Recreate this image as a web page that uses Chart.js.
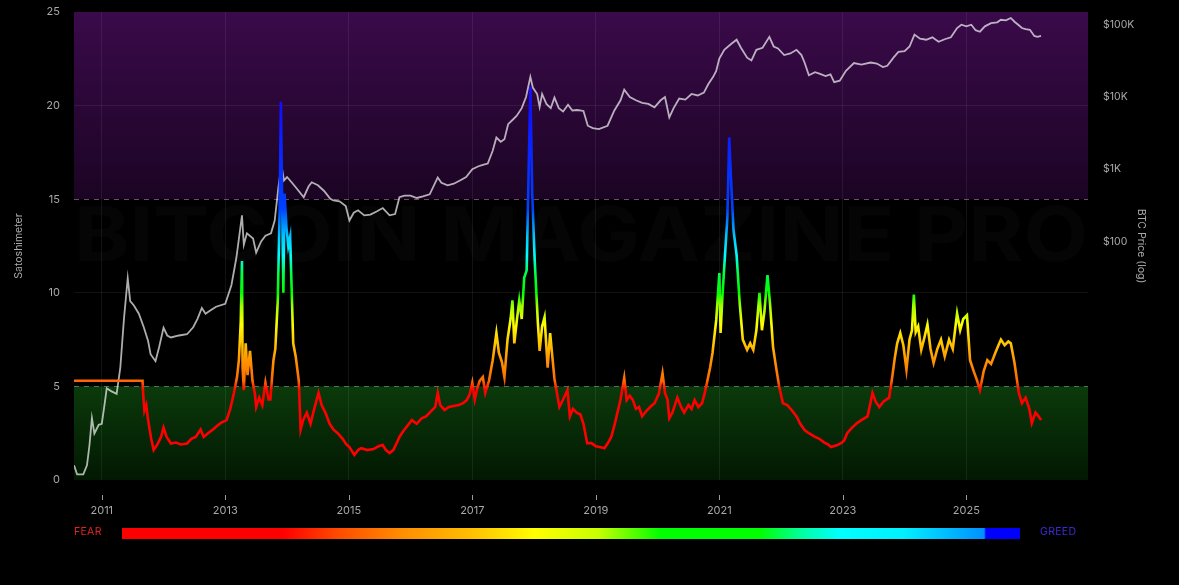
<!DOCTYPE html>
<html>
<head>
<meta charset="utf-8">
<script src="https://cdn.jsdelivr.net/npm/chart.js@4.4.1/dist/chart.umd.min.js"></script>
<style>
  html, body { margin:0; padding:0; background:#000; }
  #wrap { position:relative; width:1179px; height:585px; background:#000; overflow:hidden; }
  #c { position:absolute; left:0; top:0; }
  .lbl { position:absolute; font-family:Inter, "Open Sans", sans-serif; font-size:10.5px; letter-spacing:0.3px; }
  #fear { left:74px; top:525px; color:#e02424; }
  #greed { left:1040px; top:525px; color:#3a2ad8; }
  #bar { position:absolute; left:122px; top:528px; width:898px; height:11px;
    background: linear-gradient(to right, #ff0000 0%, #ff0000 18%, #ff4a00 24%, #ff8c00 31%, #ffc000 39%, #ffff00 46%, #c8ff00 53%, #00ff00 60%, #00ff00 71%, #00ffaa 76%, #00ffff 80%, #00f0ff 87%, #0090ff 96%, #0000ff 96.2%, #0000ff 100%); }
</style>
</head>
<body>
<div id="wrap">
  <canvas id="c" width="1179" height="585"></canvas>
  <div class="lbl" id="fear">FEAR</div>
  <div id="bar"></div>
  <div class="lbl" id="greed">GREED</div>
</div>
<script>
// ---- data (decimal years) ----
const satYears = [2010.55,2011.66,2011.67,2011.69,2011.72,2011.75,2011.80,2011.84,2011.90,2011.96,2012.00,2012.05,2012.12,2012.20,2012.28,2012.38,2012.45,2012.52,2012.60,2012.65,2012.72,2012.80,2012.87,2012.93,2013.02,2013.08,2013.14,2013.19,2013.22,2013.25,2013.27,2013.28,2013.30,2013.33,2013.36,2013.40,2013.44,2013.48,2013.50,2013.55,2013.60,2013.65,2013.70,2013.73,2013.76,2013.78,2013.81,2013.85,2013.88,2013.90,2013.92,2013.94,2013.96,2013.99,2014.02,2014.05,2014.07,2014.10,2014.14,2014.19,2014.22,2014.26,2014.32,2014.38,2014.44,2014.51,2014.56,2014.62,2014.69,2014.75,2014.82,2014.90,2014.96,2015.01,2015.09,2015.15,2015.20,2015.30,2015.40,2015.48,2015.55,2015.60,2015.66,2015.72,2015.78,2015.82,2015.88,2015.95,2016.02,2016.10,2016.18,2016.25,2016.31,2016.40,2016.44,2016.48,2016.55,2016.62,2016.70,2016.78,2016.85,2016.91,2016.96,2017.00,2017.04,2017.08,2017.12,2017.17,2017.21,2017.27,2017.33,2017.39,2017.43,2017.48,2017.52,2017.57,2017.62,2017.65,2017.68,2017.72,2017.76,2017.80,2017.84,2017.88,2017.91,2017.94,2017.97,2018.01,2018.06,2018.09,2018.13,2018.17,2018.22,2018.26,2018.33,2018.41,2018.47,2018.54,2018.58,2018.63,2018.69,2018.75,2018.80,2018.86,2018.93,2019.00,2019.08,2019.14,2019.20,2019.25,2019.30,2019.35,2019.40,2019.46,2019.50,2019.55,2019.60,2019.65,2019.70,2019.75,2019.82,2019.88,2019.95,2020.02,2020.08,2020.12,2020.16,2020.19,2020.24,2020.28,2020.32,2020.38,2020.43,2020.50,2020.55,2020.60,2020.66,2020.72,2020.76,2020.80,2020.85,2020.89,2020.95,2021.00,2021.02,2021.05,2021.10,2021.13,2021.16,2021.19,2021.23,2021.28,2021.33,2021.38,2021.45,2021.50,2021.55,2021.60,2021.65,2021.69,2021.73,2021.78,2021.82,2021.87,2021.92,2021.97,2022.03,2022.10,2022.17,2022.25,2022.31,2022.38,2022.45,2022.55,2022.62,2022.70,2022.76,2022.81,2022.90,2022.97,2023.02,2023.07,2023.15,2023.23,2023.30,2023.40,2023.44,2023.48,2023.53,2023.59,2023.66,2023.75,2023.80,2023.84,2023.88,2023.93,2023.98,2024.03,2024.08,2024.12,2024.15,2024.18,2024.22,2024.27,2024.32,2024.37,2024.42,2024.47,2024.53,2024.59,2024.65,2024.72,2024.78,2024.85,2024.90,2024.95,2025.01,2025.06,2025.12,2025.17,2025.22,2025.28,2025.34,2025.40,2025.47,2025.52,2025.56,2025.62,2025.68,2025.72,2025.78,2025.85,2025.90,2025.96,2026.02,2026.06,2026.12,2026.17,2026.21];
const satValues = [5.3,5.3,4.6,3.7,4.0,3.2,2.2,1.6,1.9,2.3,2.8,2.3,1.95,2.0,1.9,1.95,2.2,2.3,2.7,2.3,2.5,2.7,2.9,3.05,3.2,3.8,4.65,5.5,6.4,8.4,11.7,6.0,4.8,7.3,5.6,6.9,5.3,4.6,3.9,4.4,4.0,5.2,4.3,4.3,5.6,6.4,7.0,9.6,14.4,20.2,15.0,10.0,15.3,13.5,12.5,13.0,10.7,7.3,6.6,5.3,2.7,3.2,3.6,3.0,3.8,4.65,4.0,3.6,3.0,2.7,2.5,2.2,1.9,1.76,1.34,1.6,1.7,1.6,1.65,1.8,1.87,1.6,1.44,1.6,2.0,2.3,2.6,2.9,3.2,3.0,3.3,3.4,3.6,3.9,4.65,4.0,3.74,3.9,3.95,4.0,4.1,4.27,4.6,5.2,4.3,4.9,5.3,5.5,4.65,5.3,6.4,7.85,6.8,6.3,5.5,7.5,8.6,9.6,7.3,8.5,9.6,8.6,10.8,11.2,16.2,21.0,15.3,11.75,8.5,6.9,8.2,8.7,6.0,7.85,5.4,3.9,4.3,4.8,3.4,3.8,3.6,3.5,3.0,1.97,1.97,1.8,1.75,1.7,2.0,2.3,2.9,3.6,4.3,5.45,4.27,4.5,4.27,3.8,3.9,3.4,3.7,3.9,4.1,4.6,5.7,4.65,4.3,3.3,3.6,4.0,4.4,3.9,3.6,4.0,3.8,4.27,3.9,4.1,4.6,5.2,6.0,6.8,8.55,11.05,7.85,9.8,12.45,14.0,18.3,16.0,13.35,12.0,9.45,7.5,6.95,7.3,6.95,8.0,10.0,8.0,9.0,10.95,9.45,7.1,6.0,4.97,4.1,4.0,3.74,3.4,3.0,2.67,2.5,2.3,2.2,2.0,1.9,1.76,1.85,1.97,2.1,2.5,2.8,3.04,3.2,3.4,4.0,4.65,4.2,3.9,4.2,4.4,5.5,6.5,7.3,7.85,7.2,5.9,7.5,8.0,9.9,7.9,8.2,6.95,7.6,8.3,7.0,6.25,7.0,7.5,6.6,7.5,7.0,8.9,8.0,8.6,8.8,6.4,5.8,5.35,4.8,5.8,6.4,6.2,6.8,7.2,7.5,7.2,7.4,7.3,6.25,4.65,4.1,4.4,3.8,3.04,3.6,3.4,3.2];

const priceYears = [2010.55,2010.60,2010.70,2010.76,2010.80,2010.84,2010.88,2010.95,2011.00,2011.05,2011.08,2011.15,2011.24,2011.30,2011.36,2011.42,2011.46,2011.52,2011.60,2011.68,2011.75,2011.79,2011.87,2011.93,2012.00,2012.06,2012.12,2012.25,2012.38,2012.48,2012.55,2012.62,2012.68,2012.75,2012.85,2013.00,2013.10,2013.18,2013.27,2013.30,2013.35,2013.45,2013.50,2013.58,2013.65,2013.74,2013.80,2013.86,2013.91,2013.95,2014.00,2014.08,2014.15,2014.27,2014.35,2014.40,2014.50,2014.60,2014.70,2014.75,2014.85,2014.95,2015.01,2015.08,2015.15,2015.25,2015.35,2015.45,2015.55,2015.66,2015.75,2015.82,2015.90,2016.00,2016.10,2016.20,2016.31,2016.44,2016.50,2016.60,2016.70,2016.80,2016.90,2017.00,2017.10,2017.17,2017.25,2017.33,2017.39,2017.46,2017.52,2017.58,2017.65,2017.72,2017.80,2017.87,2017.94,2017.98,2018.05,2018.09,2018.13,2018.20,2018.27,2018.33,2018.40,2018.47,2018.55,2018.62,2018.70,2018.80,2018.87,2018.95,2019.05,2019.19,2019.30,2019.40,2019.46,2019.55,2019.65,2019.75,2019.85,2019.95,2020.05,2020.12,2020.19,2020.26,2020.35,2020.45,2020.55,2020.65,2020.75,2020.82,2020.90,2020.95,2021.00,2021.08,2021.20,2021.28,2021.35,2021.45,2021.52,2021.60,2021.70,2021.81,2021.88,2021.95,2022.05,2022.15,2022.25,2022.33,2022.38,2022.45,2022.55,2022.62,2022.72,2022.80,2022.86,2022.95,2023.05,2023.18,2023.30,2023.45,2023.55,2023.65,2023.72,2023.82,2023.90,2024.00,2024.08,2024.16,2024.25,2024.35,2024.45,2024.55,2024.65,2024.75,2024.85,2024.92,2025.00,2025.08,2025.15,2025.22,2025.30,2025.40,2025.50,2025.56,2025.64,2025.72,2025.78,2025.84,2025.90,2025.96,2026.03,2026.10,2026.15,2026.21];
const priceValues = [0.08,0.06,0.06,0.08,0.15,0.36,0.22,0.29,0.3,0.6,0.93,0.85,0.78,1.8,8.7,31,15,13,10,6.5,4.2,2.75,2.2,3.5,6.4,5.0,4.7,5.0,5.2,6.5,8.5,12,10,11,12.5,13.7,25,60,230,90,130,110,70,100,120,130,195,560,1140,700,780,650,550,410,580,660,600,500,390,370,360,310,195,250,270,230,235,260,290,230,240,410,430,430,400,420,450,770,650,600,630,700,780,1000,1100,1150,1200,1800,2750,2400,2600,4200,4800,5500,7000,10000,19000,13500,11000,7300,11000,8000,7000,9800,7000,6300,7800,6500,6600,6400,4000,3700,3600,4000,6500,9000,12600,10000,9000,8300,8000,7200,9000,10000,5200,7000,9500,9200,11000,10500,11500,15000,19000,23000,34000,45000,55000,62000,48000,35000,32000,45000,48000,68000,50000,47000,38000,40000,45000,38000,30000,20000,22000,21000,19500,20500,16000,16800,23000,29500,28000,30000,29000,26000,27000,35000,42000,43000,50000,73000,64000,62000,67000,58000,63000,67000,90000,100000,95000,100000,84000,80000,95000,105000,108000,117000,115000,124000,110000,100000,90000,87000,85000,70000,68000,70000];

const yearTicks = [2011, 2013, 2015, 2017, 2019, 2021, 2023, 2025];
const satTicks = [0, 5, 10, 15, 20, 25];
const priceTicks = [100, 1000, 10000, 100000];
const priceTickLabels = ['$100', '$1K', '$10K', '$100K'];

const satData = satYears.map((x, i) => ({ x, y: satValues[i] }));
const priceData = priceYears.map((x, i) => ({ x, y: priceValues[i] }));

const FONT = 'Inter, "Open Sans", sans-serif';

const satStops = [
  [0, '#ff0000'], [4.8, '#ff0000'], [5.3, '#ff6a00'], [6.5, '#ff9800'], [7.5, '#ffd000'],
  [8.3, '#ffff00'], [9.3, '#a0ff00'], [10, '#00ff00'], [11, '#00ff40'], [12, '#00ffff'],
  [13, '#00c8ff'], [14.5, '#0040ff'], [20, '#1010ff'], [25, '#2020ff']
];

function satGradient(ctx) {
  const chart = ctx.chart;
  const { chartArea, scales } = chart;
  if (!chartArea) return '#ff0000';
  const y = scales.y;
  const p0 = y.getPixelForValue(0), p1 = y.getPixelForValue(25);
  const g = chart.ctx.createLinearGradient(0, p0, 0, p1);
  satStops.forEach(([v, c]) => g.addColorStop(v / 25, c));
  return g;
}

const bgPlugin = {
  id: 'bgZones',
  beforeDraw(chart) {
    const { ctx, chartArea: a, scales: { y } } = chart;
    ctx.save();
    ctx.fillStyle = '#000';
    ctx.fillRect(0, 0, chart.width, chart.height);
    const y25 = y.getPixelForValue(25), y15 = y.getPixelForValue(15);
    const y5 = y.getPixelForValue(5), y0 = y.getPixelForValue(0);
    let g = ctx.createLinearGradient(0, y25, 0, y15);
    g.addColorStop(0, '#3a0a4a'); g.addColorStop(1, '#1b0423');
    ctx.fillStyle = g;
    ctx.fillRect(a.left, y25, a.right - a.left, y15 - y25);
    g = ctx.createLinearGradient(0, y5, 0, y0);
    g.addColorStop(0, '#0b3a0b'); g.addColorStop(1, '#021802');
    ctx.fillStyle = g;
    ctx.fillRect(a.left, y5, a.right - a.left, y0 - y5);
    // faint watermark
    ctx.font = 'bold 76px ' + FONT;
    ctx.fillStyle = 'rgba(255,255,255,0.018)';
    ctx.textBaseline = 'middle';
    const txt = 'BITCOIN MAGAZINE PRO';
    const w = ctx.measureText(txt).width;
    ctx.translate(a.left, 238);
    ctx.scale((a.right - a.left) / w, 1);
    ctx.fillText(txt, 0, 0);
    ctx.restore();
  },
  beforeDatasetsDraw(chart) {
    const { ctx, chartArea: a, scales: { y } } = chart;
    ctx.save();
    ctx.lineWidth = 1;
    ctx.setLineDash([5, 5]);
    ctx.strokeStyle = 'rgba(190,140,190,0.55)';
    let p = Math.round(y.getPixelForValue(15)) + 0.5;
    ctx.beginPath(); ctx.moveTo(a.left, p); ctx.lineTo(a.right, p); ctx.stroke();
    ctx.strokeStyle = 'rgba(150,180,150,0.55)';
    p = Math.round(y.getPixelForValue(5)) + 0.5;
    ctx.beginPath(); ctx.moveTo(a.left, p); ctx.lineTo(a.right, p); ctx.stroke();
    ctx.restore();
  },
  afterDraw(chart) {
    const { ctx, chartArea: a, scales: { x } } = chart;
    ctx.save();
    ctx.strokeStyle = '#9a9a9a';
    ctx.lineWidth = 1;
    x.ticks.forEach(t => {
      const px = Math.round(x.getPixelForValue(t.value)) + 0.5;
      ctx.beginPath(); ctx.moveTo(px, a.bottom + 15); ctx.lineTo(px, a.bottom + 20); ctx.stroke();
    });
    ctx.restore();
  }
};

new Chart(document.getElementById('c'), {
  type: 'line',
  data: {
    datasets: [
      {
        label: 'Satoshimeter',
        data: satData,
        yAxisID: 'y',
        borderColor: satGradient,
        borderWidth: 2.6,
        pointRadius: 0,
        tension: 0,
        order: 0
      },
      {
        label: 'BTC Price',
        data: priceData,
        yAxisID: 'y2',
        borderColor: 'rgba(255,255,255,0.68)',
        borderWidth: 1.8,
        pointRadius: 0,
        tension: 0,
        order: 1
      }
    ]
  },
  options: {
    responsive: false,
    animation: false,
    devicePixelRatio: 1,
    layout: { padding: { top: 12, bottom: 65, left: 0, right: 0 } },
    plugins: { legend: { display: false }, tooltip: { enabled: false } },
    scales: {
      x: {
        type: 'linear',
        min: 2010.55,
        max: 2026.97,
        afterBuildTicks: s => { s.ticks = yearTicks.map(v => ({ value: v })); },
        afterFit: s => { s.height = 40; },
        border: { display: false },
        grid: { color: 'rgba(255,255,255,0.07)', drawTicks: false },
        ticks: { color: '#a8a8a8', padding: 24, maxRotation: 0, font: { family: FONT, size: 11 },
                 callback: v => String(v) }
      },
      y: {
        position: 'left',
        min: 0, max: 25,
        afterBuildTicks: s => { s.ticks = satTicks.map(v => ({ value: v })); },
        afterFit: s => { s.width = 74; },
        border: { display: false },
        grid: { drawTicks: true, tickLength: 14, tickColor: 'rgba(0,0,0,0)',
                color: c => (c.tick && (c.tick.value === 5 || c.tick.value === 15 || c.tick.value === 0 || c.tick.value === 25)) ? 'rgba(0,0,0,0)' : 'rgba(255,255,255,0.07)' },
        ticks: { color: '#a8a8a8', padding: 0, font: { family: FONT, size: 11 } },
        title: { display: true, text: 'Satoshimeter', color: '#a8a8a8', font: { family: FONT, size: 10.5 }, padding: { top: 13, bottom: 0 } }
      },
      y2: {
        type: 'logarithmic',
        position: 'right',
        min: 0.05, max: 150000,
        afterBuildTicks: s => { s.ticks = priceTicks.map(v => ({ value: v })); },
        afterFit: s => { s.width = 91; },
        border: { display: false },
        grid: { display: true, drawOnChartArea: false, drawTicks: true, tickLength: 15,
                color: 'rgba(0,0,0,0)', tickColor: 'rgba(0,0,0,0)' },
        ticks: { color: '#a8a8a8', padding: 0, font: { family: FONT, size: 10.5 },
                 callback: v => { const i = priceTicks.indexOf(v); return i >= 0 ? priceTickLabels[i] : ''; } },
        title: { display: true, text: 'BTC Price (log)', color: '#a8a8a8', font: { family: FONT, size: 10.5 }, padding: { top: 32, bottom: 0 } }
      }
    }
  },
  plugins: [bgPlugin]
});
</script>
</body>
</html>
